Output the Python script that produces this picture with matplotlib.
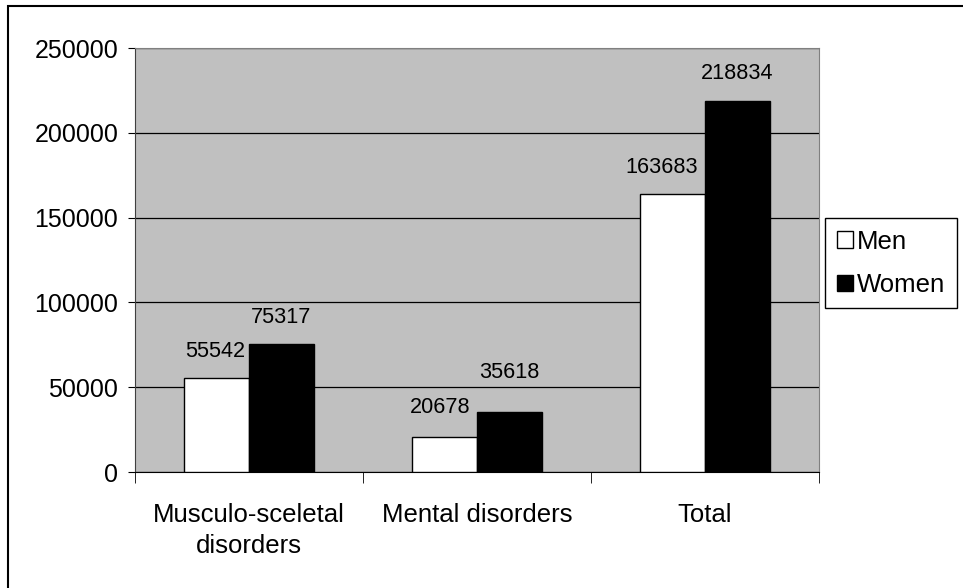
import matplotlib
matplotlib.use("Agg")
import matplotlib.pyplot as plt
from matplotlib.patches import Rectangle
import numpy as np

categories = ["Musculo-sceletal\ndisorders", "Mental disorders", "Total"]
men = [55542, 20678, 163683]
women = [75317, 35618, 218834]
series_names = ["Men", "Women"]
yticks = [0, 50000, 100000, 150000, 200000, 250000]

plt.rcParams['font.family'] = ['Liberation Sans', 'DejaVu Sans']

fig = plt.figure(figsize=(9.63, 5.88), dpi=100)
fig.patches.append(Rectangle((8/963, -0.1), 1.2, 1 - 6/588 + 0.1, transform=fig.transFigure,
                             fill=False, edgecolor='black', linewidth=1.5))
ax = fig.add_axes([135/963, 1 - 472/588, (819 - 135)/963, (472 - 48)/588])
ax.set_facecolor('#C0C0C0')

x = np.arange(len(categories))
w = 0.285
bm = ax.bar(x - w/2, men, w, color='white', edgecolor='black', linewidth=1, label=series_names[0], zorder=3)
bw = ax.bar(x + w/2, women, w, color='black', edgecolor='black', linewidth=1, label=series_names[1], zorder=3)

ax.set_xlim(-0.5, len(categories) - 0.5)
ax.set_ylim(0, 250000)
ax.set_yticks(yticks)
ax.set_yticklabels([str(t) for t in yticks], fontsize=18)
ax.yaxis.grid(True, color='black', linewidth=0.9, zorder=1)
ax.set_axisbelow(True)
ax.tick_params(axis='y', length=5, direction='out', color='black', pad=7)

ax.set_xticks(x)
ax.set_xticklabels(categories, fontsize=18.5, linespacing=1.4)
ax.tick_params(axis='x', length=0, pad=22)
ax.set_xticks(np.arange(-0.5, len(categories)), minor=True)
ax.tick_params(axis='x', which='minor', length=8, direction='out', color='black')

for s in ['top', 'right']:
    ax.spines[s].set_color('#808080')
ax.spines['left'].set_color('#404040')
ax.spines['bottom'].set_color('black')

men_off = [(-1, 26), (-4, 29), (-11, 27)]
women_off = [(0, 27), (0, 39), (0, 27)]
for rect, v, off in zip(bm, men, men_off):
    ax.annotate(str(v), (rect.get_x() + rect.get_width()/2, v), xytext=off,
                textcoords='offset pixels', ha='center', va='center', fontsize=15.6, zorder=5)
for rect, v, off in zip(bw, women, women_off):
    ax.annotate(str(v), (rect.get_x() + rect.get_width()/2, v), xytext=off,
                textcoords='offset pixels', ha='center', va='center', fontsize=15.6, zorder=5)

leg = fig.legend(handles=[bm, bw], labels=series_names, loc='upper left',
                 bbox_to_anchor=(825/963, 1 - 218/588), fontsize=18.5,
                 frameon=True, fancybox=False, edgecolor='black', framealpha=1,
                 handlelength=0.65, handleheight=0.6, handletextpad=0.15,
                 borderpad=0.45, labelspacing=0.75, borderaxespad=0)
leg.get_frame().set_linewidth(1)

fig.savefig("out.png", dpi=100)
